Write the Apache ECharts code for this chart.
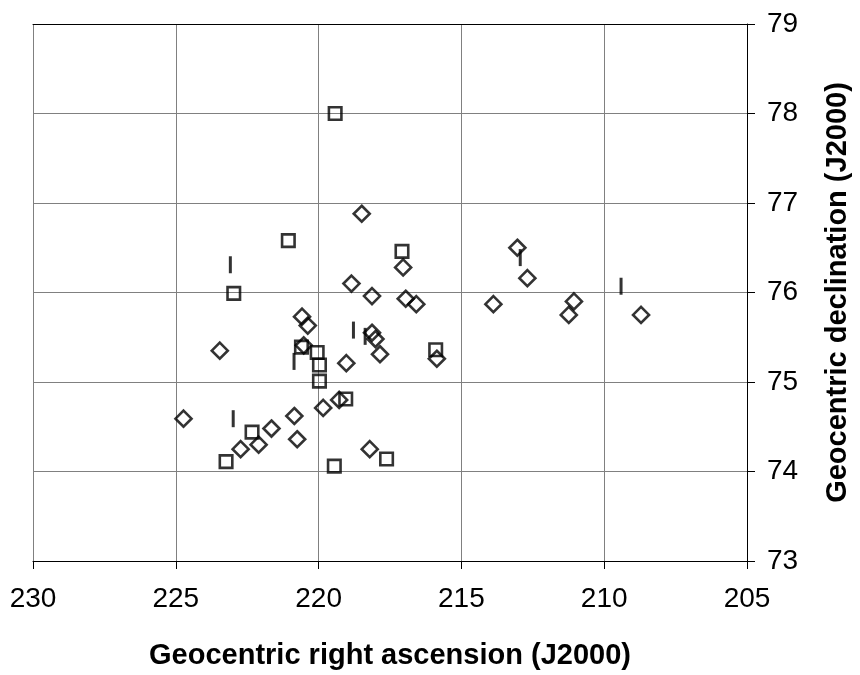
<!DOCTYPE html>
<html>
<head>
<meta charset="utf-8">
<script src="https://cdn.jsdelivr.net/npm/echarts@6/dist/echarts.min.js"></script>
<style>
html,body{margin:0;padding:0;background:#fff;overflow:hidden;}
#chart{width:860px;height:675px;}
</style>
</head>
<body>
<div id="chart"></div>
<script>
// Diamond markers: [right ascension, declination]
const diamondRA  = [224.73,223.46,222.73,222.10,221.65,220.85,220.75,220.58,220.38,220.52,219.84,219.28,219.03,218.85,218.49,218.21,218.13,218.13,218.01,217.85,217.04,216.95,216.58,215.86,213.88,213.04,212.69,211.06,211.24,208.71];
const diamondDec = [74.59,75.35,74.25,74.30,74.48,74.62,74.36,75.73,75.63,75.41,74.71,74.80,75.21,76.10,76.88,74.25,75.96,75.55,75.48,75.31,76.28,75.93,75.87,75.26,75.87,76.50,76.16,75.90,75.75,75.75];

// Square markers
const squareRA  = [223.24,222.97,222.33,221.06,220.60,220.05,219.97,219.97,219.45,219.42,219.05,217.62,217.08,215.90];
const squareDec = [74.11,75.99,74.44,76.58,75.39,75.33,75.19,75.01,74.06,78.00,74.81,74.14,76.46,75.36];

// Vertical-bar markers
const barRA  = [223.09,222.99,220.86,218.78,218.37,212.94,209.41];
const barDec = [76.31,74.59,75.23,75.58,75.51,76.39,76.07];

const xTicks = [205,210,215,220,225,230];
const yTicks = [73,74,75,76,77,78,79];

const zip = (a,b) => a.map((v,i)=>[v,b[i]]);

const FONT = 'Liberation Sans, Arial, sans-serif';
const chart = echarts.init(document.getElementById('chart'), null, {renderer:'canvas'});
chart.setOption({
  animation:false,
  backgroundColor:'#fff',
  grid:{left:33, right:106, top:24, bottom:111, containLabel:false},
  xAxis:[{
    type:'value', min:xTicks[0], max:xTicks[xTicks.length-1], interval:5, inverse:true,
    position:'bottom',
    axisLine:{show:true, onZero:false, lineStyle:{color:'#000', width:1}},
    axisTick:{show:true, inside:false, length:8, lineStyle:{color:'#000'}},
    axisLabel:{color:'#000', fontSize:28, fontFamily:FONT, margin:24},
    splitLine:{show:true, lineStyle:{color:'#808080', width:1}},
    name:'Geocentric right ascension (J2000)', nameLocation:'middle', nameGap:80,
    nameTextStyle:{color:'#000', fontSize:29, fontWeight:'bold', fontFamily:FONT}
  },{
    type:'value', min:xTicks[0], max:xTicks[xTicks.length-1], inverse:true, position:'top',
    axisLine:{show:true, onZero:false, lineStyle:{color:'#000', width:1}},
    axisTick:{show:false}, axisLabel:{show:false}, splitLine:{show:false}
  }],
  yAxis:{
    type:'value', min:yTicks[0], max:yTicks[yTicks.length-1], interval:1, position:'right',
    axisLine:{show:true, onZero:false, lineStyle:{color:'#000', width:1}},
    axisTick:{show:true, inside:false, length:8, lineStyle:{color:'#000'}},
    axisLabel:{color:'#000', fontSize:28, fontFamily:FONT, margin:20},
    splitLine:{show:true, lineStyle:{color:'#808080', width:1}},
    name:'Geocentric declination (J2000)', nameLocation:'middle', nameGap:76, nameRotate:90,
    nameTextStyle:{color:'#000', fontSize:29, fontWeight:'bold', fontFamily:FONT}
  },
  series:[
    {type:'scatter', data:zip(diamondRA, diamondDec), symbol:'diamond', symbolSize:16,
     itemStyle:{color:'none', borderColor:'#000', borderWidth:2.6}, emphasis:{disabled:true}, silent:true},
    {type:'scatter', data:zip(squareRA, squareDec), symbol:'rect', symbolSize:12.5,
     itemStyle:{color:'none', borderColor:'#000', borderWidth:2.6}, emphasis:{disabled:true}, silent:true},
    {type:'scatter', data:zip(barRA, barDec), symbol:'rect', symbolSize:[3,17],
     itemStyle:{color:'#000'}, emphasis:{disabled:true}, silent:true}
  ]
});
</script>
</body>
</html>
